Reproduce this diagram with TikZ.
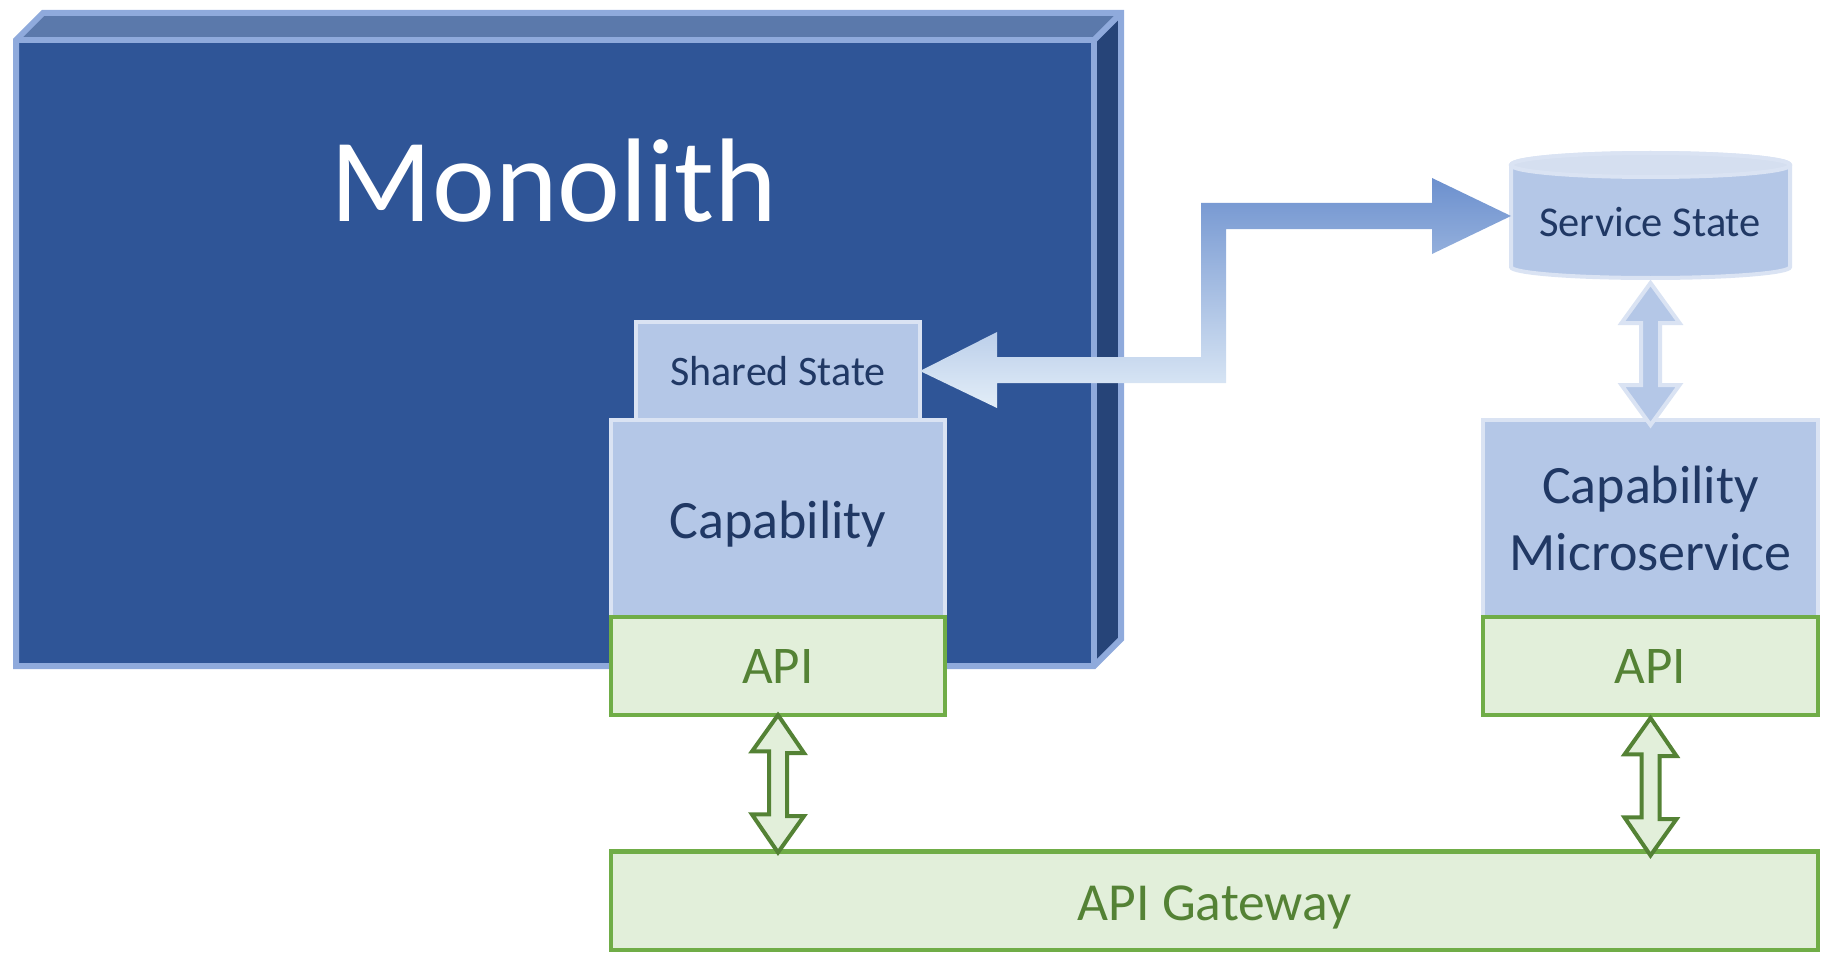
\documentclass[tikz,border=0pt]{standalone}
\usepackage{fontspec}
\usetikzlibrary{calc}
\setmainfont{Carlito}
\definecolor{monoFront}{HTML}{2F5597}
\definecolor{monoTop}{HTML}{5B79AB}
\definecolor{monoSide}{HTML}{264478}
\definecolor{monoEdge}{HTML}{8FAADC}
\definecolor{paleFill}{HTML}{B4C7E7}
\definecolor{paleEdge}{HTML}{DAE3F3}
\definecolor{paleTop}{HTML}{D5DFF0}
\definecolor{paleText}{HTML}{203864}
\definecolor{greenFill}{HTML}{E2EFDA}
\definecolor{greenEdge}{HTML}{70AD47}
\definecolor{greenDark}{HTML}{548235}
\definecolor{gradTop}{HTML}{6C90CE}
\definecolor{gradMid}{HTML}{AFC6E7}
\definecolor{gradBot}{HTML}{E3EEF8}
\newcommand{\fsz}[1]{\fontsize{#1}{#1}\selectfont}
\tikzset{
  monoline/.style={draw=monoEdge,line width=6pt,line join=miter},
  palebox/.style={rectangle,draw=paleEdge,fill=paleFill,line width=4pt,outer sep=0pt,inner sep=0pt,text=paleText,align=center},
  apibox/.style={rectangle,draw=greenEdge,fill=greenFill,line width=4.5pt,outer sep=0pt,inner sep=0pt,text=greenDark,align=center},
  palearrow/.style={draw=paleEdge,fill=paleFill,line width=4pt,line join=miter},
  greenarrow/.style={draw=greenDark,fill=greenFill,line width=4pt,line join=miter},
}
\begin{document}
\begin{tikzpicture}[x=1pt,y=-1pt]
\useasboundingbox (0,0) rectangle (1828,960);
% Monolith block
\fill[monoTop] (16,40) -- (43,13) -- (1121,13) -- (1094,40) -- cycle;
\fill[monoSide] (1094,40) -- (1121,13) -- (1121,639) -- (1094,666) -- cycle;
\fill[monoFront] (16,40) rectangle (1094,666);
\draw[monoline] (16,40) -- (43,13) -- (1121,13) -- (1121,639) -- (1094,666) -- (16,666) -- cycle;
\draw[monoline] (16,40) -- (1094,40) -- (1094,666);
\draw[monoline] (1094,40) -- (1121,13);
\node[text=white,inner sep=0pt] (mono) at (554,181) {\fsz{119}Monolith};
% Left stack
\node[palebox,minimum width=284pt,minimum height=98pt] (shared) at (778,371) {\fsz{42}Shared State};
\node[palebox,minimum width=334pt,minimum height=197pt] (cap) at (778,518.5) {\fsz{54}\rule{0pt}{48pt}Capability};
\node[apibox,minimum width=334pt,minimum height=98pt] (api) at (778,666) {\fsz{53}API};
% Right stack
\node[palebox,minimum width=335pt,minimum height=197pt] (ms) at (1650.5,518.5) {\fsz{54}Capability\\[20pt]\fsz{54}Microservice};
\node[apibox,minimum width=335pt,minimum height=98pt] (api2) at (1650.5,666) {\fsz{53}API};
% Gateway
\node[apibox,minimum width=1207pt,minimum height=98.5pt] (gw) at (1214.5,900.7) {\fsz{53.5}\rule{0pt}{48pt}API Gateway};
% Service State cylinder
\node[rectangle,minimum width=279pt,minimum height=128pt,outer sep=0pt,inner sep=0pt] (db) at (1650.5,216) {};
\draw[draw=paleEdge,fill=paleFill,line width=4pt] ($(db.west)+(0,-51)$) -- ($(db.west)+(0,51)$)
  arc[start angle=180,end angle=360,x radius=139.5pt,y radius=11pt]
  -- ($(db.east)+(0,-51)$)
  arc[start angle=0,end angle=180,x radius=139.5pt,y radius=12pt] -- cycle;
\draw[draw=paleEdge,fill=paleTop,line width=4pt] ($(db.center)+(0,-51)$) ellipse[x radius=139.5pt,y radius=12pt];
\node[text=paleText,inner sep=0pt] (dbtext) at (1650,222) {\fsz{42.5}Service State};
% Shared State <-> Service State block arrow
\shade[top color=gradTop,middle color=gradMid,bottom color=gradBot,shading angle=0]
  (shared.east) -- (997,332) -- (997,357) -- (1201,357) -- (1201,203) -- (1432,203) -- (1432,178)
  -- (db.west) -- (1432,254) -- (1432,229) -- (1226,229) -- (1226,383) -- (997,383) -- (997,408) -- cycle;
% Service State <-> Capability Microservice
\draw[palearrow] (db.south) ++(0,3) -- ++(29,40) -- ++(-19.5,0) -- ++(0,62) -- ++(19.5,0) -- ++(-29,40) -- ++(-29,-40) -- ++(19.5,0) -- ++(0,-62) -- ++(-19.5,0) -- cycle;
% API <-> Gateway
\draw[greenarrow] (api.south) -- ++(26,38) -- ++(-17,0) -- ++(0,63) -- ++(17,0) -- ($(gw.north -| api.south)+(0,1)$) -- ++(-26,-38) -- ++(17,0) -- ++(0,-63) -- ++(-17,0) -- cycle;
\draw[greenarrow] ($(api2.south)+(0,3)$) -- ++(26,38) -- ++(-17,0) -- ++(0,63) -- ++(17,0) -- ($(gw.north -| api2.south)+(0,4)$) -- ++(-26,-38) -- ++(17,0) -- ++(0,-63) -- ++(-17,0) -- cycle;
\end{tikzpicture}
\end{document}
